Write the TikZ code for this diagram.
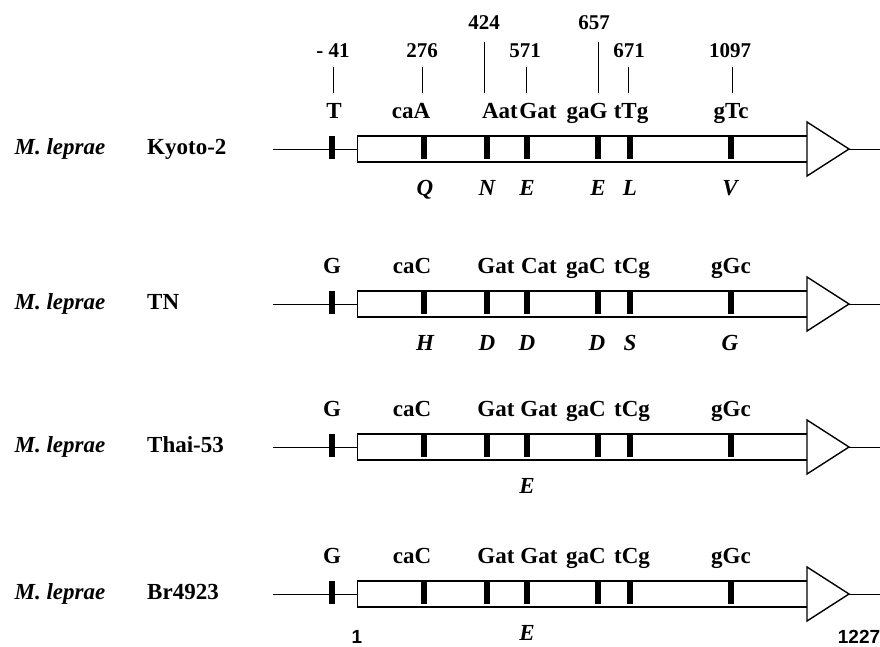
\documentclass[tikz,border=0pt]{standalone}
\usepackage{fontspec}
\setmainfont{Liberation Serif}
\newfontfamily\endfont{Liberation Sans}
\begin{document}
\begin{tikzpicture}[x=1pt, y=-1pt,
    species/.style={font=\fontsize{23}{23}\selectfont\bfseries\itshape, anchor=base, inner sep=0pt},
    strain/.style={font=\fontsize{23}{23}\selectfont\bfseries, anchor=base west, inner sep=0pt},
    codon/.style={font=\fontsize{23}{23}\selectfont\bfseries, anchor=base, inner sep=0pt},
    aa/.style={font=\fontsize{23}{23}\selectfont\bfseries\itshape, anchor=base, inner sep=0pt},
    posnum/.style={font=\fontsize{21}{21}\selectfont\bfseries, anchor=base, inner sep=0pt},
    endnum/.style={font=\fontsize{19}{19}\selectfont\endfont\bfseries, anchor=base, inner sep=0pt},
    genebox/.style={draw=black, line width=1.4pt, fill=white, minimum width=450pt,
      minimum height=26pt, inner sep=0pt, anchor=west},
    arrowhead/.style={draw=black, line width=1.4pt, fill=white},
    flank/.style={line width=0.9pt}]
  \useasboundingbox (0,0) rectangle (880,646);

  % the four genes
  \foreach \r/\y in {kyoto/149, tn/304, thai/447, br/594} {
    \coordinate (\r-in) at (273,\y);
    \coordinate (\r-out) at (880,\y);
    \coordinate (\r-tip) at (849,\y);
    \draw[flank] (\r-in) -- (357,\y);
    \node[genebox] (\r-box) at (357,\y) {};
    \draw[arrowhead] (807,{\y-27}) -- (\r-tip) -- (807,{\y+27}) -- cycle;
    \draw[flank] (\r-tip) -- (\r-out);
    \fill (329,{\y-13}) rectangle (335,{\y+10});
    \foreach \m in {424,487,527,598,630,731}
      \fill ({\m-3},{\y-13}) rectangle ({\m+3},{\y+10});
  }

  % positions
  \node[posnum] (p41) at (333,57) {- 41};
  \node[posnum] (p276) at (422,57) {276};
  \node[posnum] (p424) at (484,29) {424};
  \node[posnum] (p571) at (525,57) {571};
  \node[posnum] (p657) at (594,29) {657};
  \node[posnum] (p671) at (629,57) {671};
  \node[posnum] (p1097) at (730,57) {1097};
  \draw (333,67) -- (333,93);
  \draw (422,67) -- (422,93);
  \draw (484,42) -- (484,93);
  \draw (526,67) -- (526,93);
  \draw (598,42) -- (598,93);
  \draw (628,67) -- (628,93);
  \draw (732,67) -- (732,93);

  % Kyoto-2
  \node[species] (sp-kyoto) at (60,154) {M. leprae};
  \node[strain] (st-kyoto) at (147,154) {Kyoto-2};
  \node[codon] (c1a) at (334,118) {T};
  \node[codon] (c1b) at (411,118) {caA};
  \node[codon] (c1c) at (500,118) {Aat};
  \node[codon] (c1d) at (538,118) {Gat};
  \node[codon] (c1e) at (587,118) {gaG};
  \node[codon] (c1f) at (631,118) {tTg};
  \node[codon] (c1g) at (731,118) {gTc};
  \node[aa] (a1a) at (425,195) {Q};
  \node[aa] (a1b) at (487,195) {N};
  \node[aa] (a1c) at (527,195) {E};
  \node[aa] (a1d) at (598,195) {E};
  \node[aa] (a1e) at (630,195) {L};
  \node[aa] (a1f) at (730,195) {V};

  % TN
  \node[species] (sp-tn) at (60,309) {M. leprae};
  \node[strain] (st-tn) at (147,309) {TN};
  \node[codon] (c2a) at (332,273) {G};
  \node[codon] (c2b) at (412,273) {caC};
  \node[codon] (c2c) at (496,273) {Gat};
  \node[codon] (c2d) at (539,273) {Cat};
  \node[codon] (c2e) at (586,273) {gaC};
  \node[codon] (c2f) at (632,273) {tCg};
  \node[codon] (c2g) at (731,273) {gGc};
  \node[aa] (a2a) at (425,350) {H};
  \node[aa] (a2b) at (487,350) {D};
  \node[aa] (a2c) at (527,350) {D};
  \node[aa] (a2d) at (597,350) {D};
  \node[aa] (a2e) at (630,350) {S};
  \node[aa] (a2f) at (730,350) {G};

  % Thai-53
  \node[species] (sp-thai) at (60,452) {M. leprae};
  \node[strain] (st-thai) at (147,452) {Thai-53};
  \node[codon] (c3a) at (332,416) {G};
  \node[codon] (c3b) at (412,416) {caC};
  \node[codon] (c3c) at (496,416) {Gat};
  \node[codon] (c3d) at (539,416) {Gat};
  \node[codon] (c3e) at (586,416) {gaC};
  \node[codon] (c3f) at (632,416) {tCg};
  \node[codon] (c3g) at (731,416) {gGc};
  \node[aa] (a3a) at (527,493) {E};

  % Br4923
  \node[species] (sp-br) at (60,599) {M. leprae};
  \node[strain] (st-br) at (147,599) {Br4923};
  \node[codon] (c4a) at (332,563) {G};
  \node[codon] (c4b) at (412,563) {caC};
  \node[codon] (c4c) at (496,563) {Gat};
  \node[codon] (c4d) at (539,563) {Gat};
  \node[codon] (c4e) at (586,563) {gaC};
  \node[codon] (c4f) at (632,563) {tCg};
  \node[codon] (c4g) at (731,563) {gGc};
  \node[aa] (a4a) at (527,640) {E};
  \node[endnum] (first) at (357,643) {1};
  \node[endnum] (last) at (859,643) {1227};
\end{tikzpicture}
\end{document}
